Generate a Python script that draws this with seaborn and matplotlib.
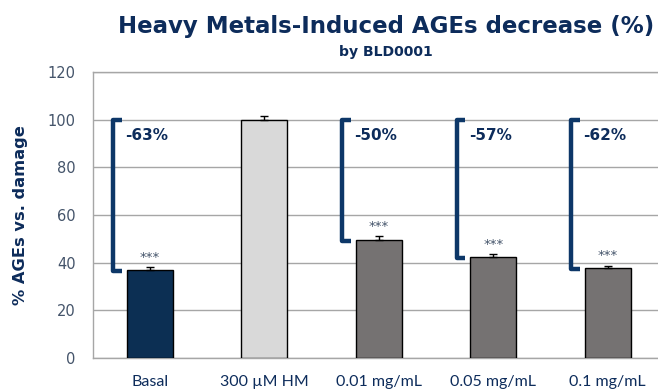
import numpy as np
import pandas as pd
import matplotlib
matplotlib.use("Agg")
import matplotlib.pyplot as plt
import seaborn as sns

categories = ["Basal", "300 µM HM", "0.01 mg/mL", "0.05 mg/mL", "0.1 mg/mL"]
values = [37.0, 100.0, 49.5, 42.5, 37.8]
errors = [1.0, 1.5, 1.5, 1.0, 1.0]
decrease_labels = ["-63%", None, "-50%", "-57%", "-62%"]
significance = ["***", None, "***", "***", "***"]
bar_colors = ["#002F5F", "#D9D9D9", "#767171", "#767171", "#767171"]
y_ticks = [0, 20, 40, 60, 80, 100, 120]

NAVY = "#0D2C5B"
TICK = "#44546A"
GRID = "#A6A6A6"

sns.set_theme(style="white")
plt.rcParams["font.family"] = ["DejaVu Sans"]

df = pd.DataFrame({"cat": categories, "val": values})

fig = plt.figure(figsize=(6.58, 3.90), dpi=100)
ax = fig.add_axes([92.5 / 658, 32 / 390, (665 - 92.5) / 658, 286 / 390])

sns.barplot(data=df, x="cat", y="val", hue="cat", palette=bar_colors,
            width=0.4, edgecolor="black", linewidth=1.0, legend=False,
            errorbar=None, ax=ax, zorder=3)

xpos = np.arange(len(categories))
ax.errorbar(xpos, values, yerr=[np.zeros(len(errors)), errors], fmt="none",
            ecolor="black", elinewidth=1.0, capsize=3, capthick=1.0, zorder=4)

ax.set_ylim(0, 120)
ax.set_xlim(-0.5, len(categories) - 0.5)
ax.set_yticks(y_ticks)
ax.yaxis.grid(True, color=GRID, linewidth=1.0, zorder=0)
ax.set_axisbelow(True)
for s in ["left", "bottom", "top"]:
    ax.spines[s].set_color(GRID)
    ax.spines[s].set_linewidth(1.0)
ax.spines["right"].set_visible(False)
ax.tick_params(axis="y", length=0, pad=12, labelsize=10.5, labelcolor=TICK)
for t in ax.get_yticklabels():
    t.set_fontfamily(["DejaVu Sans"])
ax.tick_params(axis="x", length=0, pad=12, labelsize=11.5, labelcolor=NAVY)
for t in ax.get_xticklabels():
    t.set_fontfamily(["Lato", "DejaVu Sans"])
ax.set_xlabel("")
ylab = ax.set_ylabel("% AGEs vs. damage", fontsize=12.5, fontweight="bold",
                     color=NAVY, labelpad=14)

# brackets and labels
for i, (v, lab, sig, e) in enumerate(zip(values, decrease_labels, significance, errors)):
    if lab is None:
        continue
    xb = i - 0.32
    xs = i - 0.245
    bottom = v - 0.5
    ax.plot([xs, xb, xb, xs], [100, 100, bottom, bottom], color="#0D3768",
            linewidth=3.2, solid_joinstyle="round", solid_capstyle="butt", zorder=5)
    ax.text(xs + 0.03, 93.5, lab, fontsize=11, fontweight="bold", color=NAVY,
            ha="left", va="center", zorder=6)
    ax.text(i, v + e + 4.0, sig, fontsize=9.5, color=TICK, ha="center", va="center", zorder=6)

title = fig.text(386 / 658, 1 - 26 / 390, "Heavy Metals-Induced AGEs decrease (%)",
                 fontsize=16, fontweight="bold", color=NAVY, ha="center", va="center")
sub = fig.text(386 / 658, 1 - 52 / 390, "by BLD0001", fontsize=10.5,
               fontweight="bold", color=NAVY, ha="center", va="center")

# fit text widths to the reference extents
fig.canvas.draw()
r = fig.canvas.get_renderer()
for txt, target in [(title, 538), (sub, 95)]:
    w = txt.get_window_extent(r).width
    txt.set_fontsize(txt.get_fontsize() * target / w)
h = ylab.get_window_extent(r).height
ylab.set_fontsize(ylab.get_fontsize() * 180 / h)

fig.savefig("out.png", dpi=100)
